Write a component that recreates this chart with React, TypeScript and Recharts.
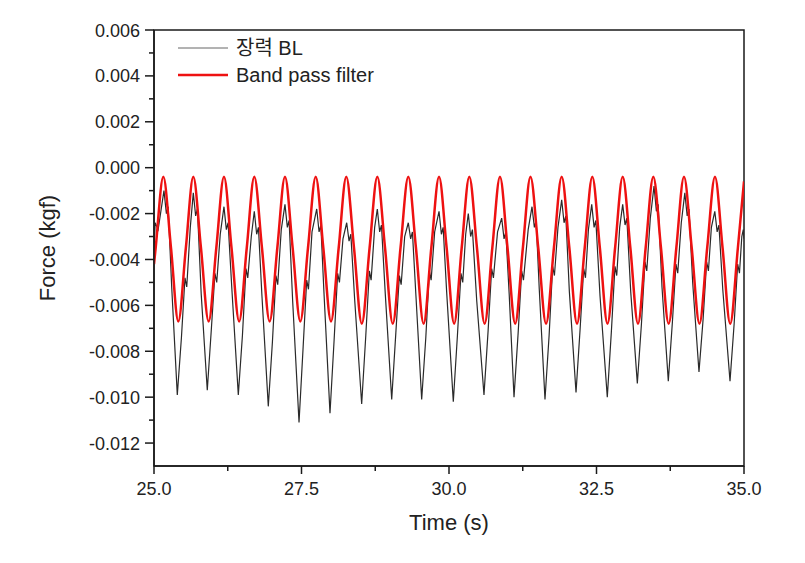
import { LineChart, Line, XAxis, YAxis, Legend, Label, ReferenceArea } from "recharts";

// axis ticks
const xMajorTicks = [25, 27.5, 30, 32.5, 35];
const xMinorTicks = [26.25, 28.75, 31.25, 33.75];
const yMajorTicks = [0.006, 0.004, 0.002, 0, -0.002, -0.004, -0.006, -0.008, -0.01, -0.012];
const yMinorTicks = [0.005, 0.003, 0.001, -0.001, -0.003, -0.005, -0.007, -0.009, -0.011];

// raw tension signal (장력 BL), one row per cycle
const blackTime = [
  25.0, 25.02, 25.07,
  25.169, 25.21, 25.24, 25.3, 25.395, 25.465, 25.525, 25.555, 25.615,
  25.666, 25.706, 25.736, 25.8, 25.903, 25.973, 26.033, 26.063, 26.123,
  26.186, 26.226, 26.256, 26.32, 26.429, 26.499, 26.559, 26.589, 26.649,
  26.7, 26.74, 26.77, 26.83, 26.937, 27.007, 27.067, 27.097, 27.157,
  27.22, 27.26, 27.29, 27.35, 27.458, 27.528, 27.588, 27.618, 27.678,
  27.758, 27.798, 27.828, 27.88, 27.983, 28.053, 28.113, 28.143, 28.203,
  28.266, 28.306, 28.336, 28.4, 28.52, 28.59, 28.65, 28.68, 28.74,
  28.785, 28.825, 28.855, 28.92, 29.029, 29.099, 29.159, 29.189, 29.249,
  29.31, 29.35, 29.38, 29.44, 29.537, 29.607, 29.667, 29.697, 29.757,
  29.831, 29.871, 29.901, 29.96, 30.073, 30.143, 30.203, 30.233, 30.283,
  30.327, 30.367, 30.397, 30.47, 30.593, 30.663, 30.723, 30.753, 30.823,
  30.893, 30.933, 30.963, 31.02, 31.102, 31.172, 31.232, 31.262, 31.342,
  31.407, 31.447, 31.477, 31.53, 31.627, 31.697, 31.757, 31.787, 31.847,
  31.91, 31.95, 31.98, 32.04, 32.153, 32.223, 32.283, 32.313, 32.363,
  32.419, 32.459, 32.489, 32.56, 32.683, 32.753, 32.813, 32.843, 32.893,
  32.944, 32.984, 33.014, 33.08, 33.192, 33.262, 33.322, 33.352, 33.412,
  33.475, 33.515, 33.545, 33.61, 33.717, 33.787, 33.847, 33.877, 33.937,
  33.997, 34.037, 34.067, 34.13, 34.237, 34.307, 34.367, 34.397, 34.447,
  34.505, 34.545, 34.575, 34.64, 34.763, 34.833, 34.893, 34.923, 34.963,
  34.988, 35.0,
];
const blackForce = [
  -0.0036, -0.0024, -0.0027,
  -0.001, -0.002, -0.0017, -0.0052, -0.0099, -0.0074, -0.0048, -0.0052, -0.0026,
  -0.0011, -0.0021, -0.0018, -0.0055, -0.0097, -0.007, -0.0046, -0.005, -0.0029,
  -0.0017, -0.0027, -0.0024, -0.0053, -0.0099, -0.0073, -0.0044, -0.0048, -0.003,
  -0.0019, -0.0029, -0.0026, -0.0056, -0.0104, -0.0076, -0.0047, -0.0051, -0.0027,
  -0.0016, -0.0026, -0.0023, -0.0058, -0.0111, -0.0078, -0.0049, -0.0053, -0.0028,
  -0.0018, -0.0028, -0.0025, -0.0054, -0.0107, -0.0075, -0.0046, -0.005, -0.0031,
  -0.0024, -0.0032, -0.0029, -0.0057, -0.0103, -0.0073, -0.0045, -0.0049, -0.0026,
  -0.0018, -0.0028, -0.0025, -0.0055, -0.0101, -0.0072, -0.0047, -0.0051, -0.003,
  -0.0024, -0.0031, -0.0028, -0.0056, -0.0101, -0.0074, -0.0045, -0.0049, -0.0028,
  -0.0019, -0.0029, -0.0026, -0.0054, -0.0102, -0.0073, -0.0046, -0.005, -0.0029,
  -0.002, -0.003, -0.0027, -0.0058, -0.0099, -0.0071, -0.0044, -0.0048, -0.0028,
  -0.0022, -0.0031, -0.0028, -0.0055, -0.01, -0.0072, -0.0045, -0.0049, -0.0027,
  -0.0017, -0.0026, -0.0023, -0.0053, -0.0101, -0.0073, -0.0043, -0.0047, -0.0026,
  -0.0014, -0.0024, -0.0021, -0.0054, -0.0098, -0.007, -0.0044, -0.0048, -0.0027,
  -0.0016, -0.0026, -0.0023, -0.0056, -0.01, -0.0071, -0.0043, -0.0047, -0.0026,
  -0.0016, -0.0025, -0.0022, -0.0054, -0.0094, -0.0068, -0.0041, -0.0045, -0.0022,
  -0.0008, -0.0019, -0.0016, -0.0052, -0.0093, -0.0067, -0.0042, -0.0046, -0.0024,
  -0.0011, -0.0021, -0.0018, -0.005, -0.0089, -0.0066, -0.0041, -0.0045, -0.0026,
  -0.0019, -0.0028, -0.0025, -0.0053, -0.0093, -0.0068, -0.0042, -0.0046, -0.003,
  -0.0027, -0.0031,
];

// band pass filtered signal: peaks, crossings and troughs
const redTime = [
  25.0, 25.028, 25.158, 25.288, 25.412, 25.54, 25.666, 25.796, 25.926, 26.056,
  26.186, 26.314, 26.443, 26.572, 26.7, 26.83, 26.96, 27.09, 27.22, 27.35,
  27.48, 27.61, 27.741, 27.87, 28.0, 28.13, 28.259, 28.39, 28.522, 28.654,
  28.785, 28.916, 29.047, 29.178, 29.31, 29.44, 29.57, 29.7, 29.831, 29.96,
  30.087, 30.215, 30.344, 30.474, 30.604, 30.734, 30.864, 30.992, 31.122, 31.252,
  31.381, 31.513, 31.645, 31.778, 31.91, 32.04, 32.17, 32.3, 32.429, 32.557,
  32.686, 32.815, 32.944, 33.074, 33.203, 33.333, 33.463, 33.593, 33.723, 33.853,
  33.983, 34.114, 34.245, 34.376, 34.508, 34.637, 34.766, 34.896, 35.0,
];
const redForce = [
  -0.0042, -0.0035, -0.0004, -0.0035, -0.0067, -0.0035, -0.0004, -0.0035, -0.0067, -0.0035,
  -0.0004, -0.0035, -0.0067, -0.0035, -0.0004, -0.0035, -0.0067, -0.0035, -0.0004, -0.0035,
  -0.0067, -0.0035, -0.0004, -0.0035, -0.0067, -0.0035, -0.0004, -0.0035, -0.0068, -0.0035,
  -0.0004, -0.0035, -0.0068, -0.0035, -0.0004, -0.0035, -0.0068, -0.0035, -0.0004, -0.0035,
  -0.0068, -0.0035, -0.0004, -0.0035, -0.0068, -0.0035, -0.0004, -0.0035, -0.0068, -0.0035,
  -0.0004, -0.0035, -0.0068, -0.0035, -0.0004, -0.0035, -0.0068, -0.0035, -0.0004, -0.0035,
  -0.0068, -0.0035, -0.0004, -0.0035, -0.0068, -0.0035, -0.0004, -0.0035, -0.0068, -0.0035,
  -0.0004, -0.0035, -0.0068, -0.0035, -0.0004, -0.0035, -0.0068, -0.0035, -0.0006,
];

const FONT = '"Liberation Sans", Arial, "Noto Sans CJK KR", sans-serif';
const INK = "#1a1a1a";
const TEXT = "#222";
const RED = "#ee1111";

const blackData = blackTime.map((t, i) => ({ t, force: blackForce[i] }));
const redData = redTime.map((t, i) => ({ t, force: redForce[i] }));

function YTick(props: any) {
  const { x, y, payload } = props;
  const major = yMajorTicks.some((v) => Math.abs(v - payload.value) < 1e-9);
  return (
    <g>
      <line x1={x - (major ? 9 : 5)} x2={x} y1={y} y2={y} stroke={INK} strokeWidth={1.5} />
      {major && (
        <text x={x - 14} y={y + 6.5} textAnchor="end" fontSize={18} fill={TEXT} fontFamily={FONT}>
          {payload.value.toFixed(3)}
        </text>
      )}
    </g>
  );
}

function XTick(props: any) {
  const { x, y, payload } = props;
  const major = xMajorTicks.some((v) => Math.abs(v - payload.value) < 1e-9);
  return (
    <g>
      <line x1={x} x2={x} y1={y} y2={y + (major ? 8 : 5)} stroke={INK} strokeWidth={1.5} />
      {major && (
        <text x={x} y={y + 29} textAnchor="middle" fontSize={18} fill={TEXT} fontFamily={FONT}>
          {payload.value.toFixed(1)}
        </text>
      )}
    </g>
  );
}

function XTitle(props: any) {
  const { viewBox } = props;
  return (
    <text x={viewBox.x + viewBox.width / 2} y={viewBox.y + 64} textAnchor="middle" fontSize={22} fill={TEXT} fontFamily={FONT}>
      Time (s)
    </text>
  );
}

function YTitle(props: any) {
  const { viewBox } = props;
  const cx = viewBox.x + 47;
  const cy = viewBox.y + viewBox.height / 2;
  return (
    <text
      x={cx}
      y={cy}
      textAnchor="middle"
      dominantBaseline="central"
      transform={`rotate(-90 ${cx} ${cy})`}
      fontSize={22}
      fill={TEXT}
      fontFamily={FONT}
    >
      Force (kgf)
    </text>
  );
}

function LegendBox() {
  return (
    <svg width={260} height={60}>
      <line x1={8} x2={58} y1={18} y2={18} stroke="#666" strokeWidth={1} />
      <text x={66} y={18} dominantBaseline="central" fontSize={20} fill={TEXT} fontFamily={FONT}>
        장력 BL
      </text>
      <line x1={8} x2={58} y1={45} y2={45} stroke={RED} strokeWidth={2.5} />
      <text x={66} y={45} dominantBaseline="central" fontSize={20} fill={TEXT} fontFamily={FONT}>
        Band pass filter
      </text>
    </svg>
  );
}

export default function App() {
  return (
    <div style={{ position: "absolute", left: 0, top: 0, width: 805, height: 563, background: "#fff" }}>
      <LineChart width={805} height={563} margin={{ top: 30, right: 61, left: 0, bottom: 0 }}>
        <XAxis
          dataKey="t"
          type="number"
          domain={[25, 35]}
          allowDataOverflow
          ticks={[...xMajorTicks, ...xMinorTicks]}
          interval={0}
          tickSize={0}
          tickMargin={0}
          tickLine={false}
          tick={<XTick />}
          height={97}
          axisLine={{ stroke: INK, strokeWidth: 1.5 }}
        >
          <Label content={<XTitle />} />
        </XAxis>
        <YAxis
          type="number"
          domain={[-0.013, 0.006]}
          allowDataOverflow
          ticks={[...yMajorTicks, ...yMinorTicks]}
          interval={0}
          tickSize={0}
          tickMargin={0}
          tickLine={false}
          tick={<YTick />}
          width={154}
          axisLine={{ stroke: INK, strokeWidth: 1.5 }}
        >
          <Label content={<YTitle />} />
        </YAxis>
        <ReferenceArea x1={25} x2={35} y1={-0.013} y2={0.006} fill="none" stroke={INK} strokeWidth={1.5} />
        <Legend
          layout="horizontal"
          verticalAlign="middle"
          align="center"
          content={<LegendBox />}
          wrapperStyle={{ position: "absolute", left: 170, top: 30, width: 260 }}
        />
        <Line
          data={blackData}
          dataKey="force"
          type="linear"
          stroke="#2a2a2a"
          strokeWidth={1.2}
          dot={false}
          isAnimationActive={false}
        />
        <Line
          data={redData}
          dataKey="force"
          type="monotone"
          stroke={RED}
          strokeWidth={2.5}
          dot={false}
          isAnimationActive={false}
        />
      </LineChart>
    </div>
  );
}
